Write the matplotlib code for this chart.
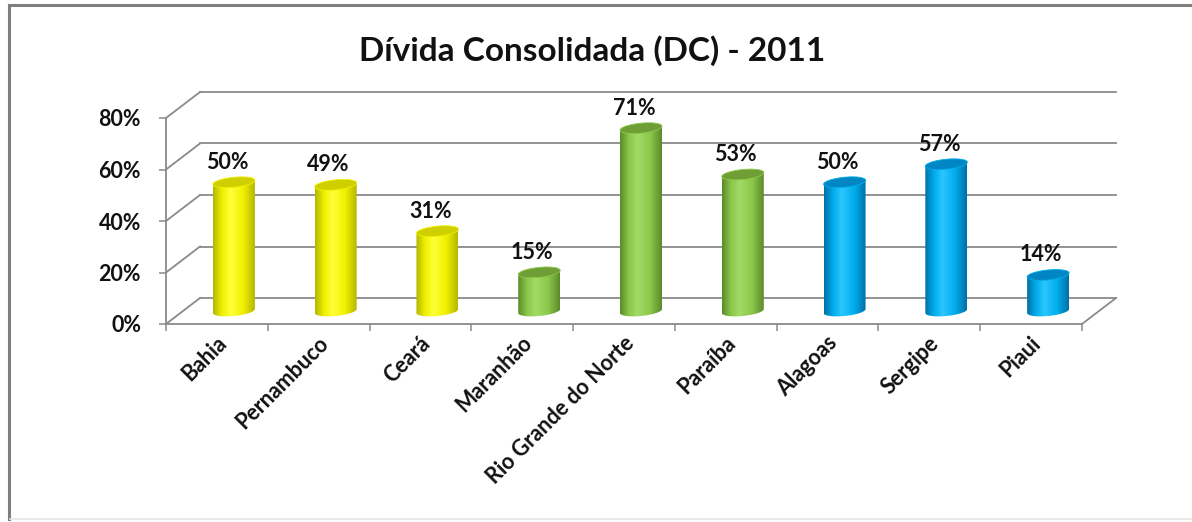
import numpy as np
import matplotlib.pyplot as plt
from matplotlib.patches import Polygon
from matplotlib.colors import LinearSegmentedColormap
from matplotlib.lines import Line2D
from matplotlib.transforms import ScaledTranslation

plt.rcParams['font.family'] = ['Lato', 'DejaVu Sans']

estados = ['Bahia', 'Pernambuco', 'Ceará', 'Maranhão', 'Rio Grande do Norte',
           'Paraíba', 'Alagoas', 'Sergipe', 'Piaui']
valores = [50, 49, 31, 15, 71, 53, 50, 57, 14]
grupos = ['amarelo', 'amarelo', 'amarelo', 'verde', 'verde', 'verde',
          'azul', 'azul', 'azul']
y_ticks = [0, 20, 40, 60, 80]

# body gradient (dark edge, mid, light) and top colour per group
cores = {
    'amarelo': ('#B5B500', '#F0F000', '#FFFF3A', '#CFCF00'),
    'verde': ('#5B8A28', '#8CC84B', '#A2DA66', '#6E9E35'),
    'azul': ('#006FA6', '#00ADEC', '#2CC6FF', '#0086C2'),
}

fig = plt.figure(figsize=(11.92, 5.22), dpi=100)
ax = fig.add_axes([166 / 1192, 198 / 522, 916 / 1192, 206 / 522])
ax.set_xlim(0, len(estados))
ax.set_ylim(0, 80)

px_x = len(estados) / 916
px_y = 80 / 206
depth_x, depth_y = 34 * px_x, 26 * px_y
grid_c = '#8A8A8A'

# back wall, side wall and floor lines
for v in y_ticks:
    ax.plot([depth_x, len(estados) + depth_x], [v + depth_y, v + depth_y],
            color=grid_c, lw=1.3, clip_on=False, zorder=1)
    ax.plot([0, depth_x], [v, v + depth_y], color=grid_c, lw=1.3,
            clip_on=False, zorder=1)
ax.plot([len(estados), len(estados) + depth_x], [0, depth_y], color=grid_c,
        lw=1.3, clip_on=False, zorder=1)

# cylinders
a = 21 * px_x
b = 5 * px_y
k = 2 * px_y
t_low = np.linspace(np.pi, 2 * np.pi, 80)
t_all = np.linspace(0, 2 * np.pi, 160)
for i, (v, g) in enumerate(zip(valores, grupos)):
    dark, mid, light, top = cores[g]
    cmap = LinearSegmentedColormap.from_list(
        g, [(0, dark), (0.22, mid), (0.42, light), (0.72, mid), (1, dark)])
    cx = i + 0.5 + depth_x / 2
    ybot = depth_y / 2
    ytop = v + depth_y / 2
    body = np.vstack([
        [[cx - a, ytop - k]],
        np.column_stack([cx + a * np.cos(t_low),
                         ybot + b * np.sin(t_low) + k * np.cos(t_low)]),
        [[cx + a, ytop + k]],
    ])
    patch = Polygon(body, closed=True, fill=False, edgecolor='none', zorder=3)
    ax.add_patch(patch)
    im = ax.imshow(np.linspace(0, 1, 256).reshape(1, -1), cmap=cmap,
                   extent=(cx - a, cx + a, ybot - b - k, ytop + k),
                   aspect='auto', zorder=3, interpolation='bilinear')
    im.set_clip_path(patch)
    tampa = np.column_stack([cx + a * np.cos(t_all),
                             ytop + b * np.sin(t_all) + k * np.cos(t_all)])
    ax.add_patch(Polygon(tampa, closed=True, facecolor=top,
                         edgecolor=mid, lw=0.6, zorder=4))
    ax.text(cx - 7 * px_x, ytop + 20 * px_y, f'{v}%', ha='center',
            va='center', fontsize=15.5, fontweight='bold', color='#111111',
            zorder=5)

ax.set_xlim(0, len(estados))
ax.set_ylim(0, 80)

# axes
for s in ['top', 'right']:
    ax.spines[s].set_visible(False)
for s in ['left', 'bottom']:
    ax.spines[s].set_color(grid_c)
    ax.spines[s].set_linewidth(1.3)
ax.set_yticks(y_ticks)
ax.set_yticklabels([f'{v}%' for v in y_ticks], fontsize=15.5,
                   fontweight='bold', color='#111111')
ax.tick_params(axis='y', length=5, width=1.1, color=grid_c, pad=13)
ax.set_xticks(range(len(estados) + 1))
ax.set_xticklabels([])
ax.tick_params(axis='x', which='major', length=5, width=1.1, color=grid_c)
ax.set_xticks([i + 0.5 for i in range(len(estados))], minor=True)
ax.set_xticklabels(estados, minor=True, rotation=45, ha='right',
                   rotation_mode='anchor', fontsize=15.5, fontweight='bold',
                   color='#111111')
ax.tick_params(axis='x', which='minor', length=0, pad=6)
shift = ScaledTranslation(-1 / 100, 0, fig.dpi_scale_trans)
for lab in ax.get_xticklabels(minor=True):
    lab.set_transform(lab.get_transform() + shift)
ax.patch.set_alpha(0)

fig.text(0.497, 1 - 51 / 522, 'Dívida Consolidada (DC) - 2011', ha='center',
         va='center', fontsize=24, fontweight='bold', color='#111111')

# chart frame
fig.add_artist(Line2D([9 / 1192, 9 / 1192], [1 - 5 / 522, 1 - 519 / 522],
                      color='#7F7F7F', lw=2.2))
fig.add_artist(Line2D([9 / 1192, 1], [1 - 5 / 522, 1 - 5 / 522],
                      color='#7F7F7F', lw=2.2))
fig.add_artist(Line2D([10 / 1192, 1], [1 - 519 / 522, 1 - 519 / 522],
                      color='#E6E6E6', lw=1.2))

fig.savefig('out.png', dpi=100)
